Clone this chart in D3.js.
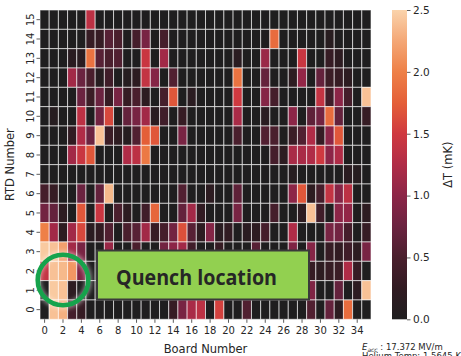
<!DOCTYPE html>
<html>
<head>
<meta charset="utf-8">
<script src="https://cdn.jsdelivr.net/npm/d3@7"></script>
<style>
    body { margin: 0; background: #fff; }
    svg { display: block; font-family: "DejaVu Sans", sans-serif; }
</style>
</head>
<body>
<div id="chart"></div>
<script>
// Board (x) and RTD (y) categories
const boards = [0, 1, 2, 3, 4, 5, 6, 7, 8, 9, 10, 11, 12, 13, 14, 15, 16, 17,
                18, 19, 20, 21, 22, 23, 24, 25, 26, 27, 28, 29, 30, 31, 32, 33, 34, 35];
const rtds = [15, 14, 13, 12, 11, 10, 9, 8, 7, 6, 5, 4, 3, 2, 1, 0];
const boardTicks = [0, 2, 4, 6, 8, 10, 12, 14, 16, 18, 20, 22, 24, 26, 28, 30, 32, 34];
const colorbarTicks = [0.0, 0.5, 1.0, 1.5, 2.0, 2.5];

// Delta T (mK), one row per RTD, same order as rtds (15 at top)
const deltaT = [
    [0,0,0,0,0,1.35,0,0,0,0,0,0,0,0,0,0,0,0,0,0,0,0,0,0,0,0,0,0,0,0,0,0,0,0,0,0],
    [0,0,0,0,0,0.3,0.3,0.6,0.5,0,0.45,0.85,0,0.45,0,0,0,0,0,0,0,0,0,0,0,1.85,0,0,0,0,0,0.12,0,0,0,0],
    [0,0,0,0.15,0.15,1.9,0.6,0.5,0.55,0,0,1.45,0,1.15,0,0,0,0,0,0,0,0.15,0,0,1.1,0,0,0,1.45,0,0,0.3,0.2,0,0,0],
    [0,0,0,1.15,0.75,0.5,0.1,0.4,0,0.1,0.2,1.4,0.95,0,0.55,0,0,0,0,0,0,1.9,0,0,0.7,0,0,0.2,1.05,0,0.7,0.35,0.3,0.2,0,0],
    [0,0,0,0,0.75,0.35,0.75,0.3,0.85,0.3,0.5,0.2,0,0.45,1.7,0,0.15,0,0,0,0,1.5,0,0,0.95,0.45,0,0,0,0,1.4,0.4,1.0,0.45,0,2.4],
    [0,0.1,0,0,1.35,0,0.8,1.6,0,0.7,0.85,1.15,0.15,0.4,0,0.3,0,0,0,0,0,1.2,0,0,0.15,0,0,1.0,0,0.65,0.8,1.85,0.7,0,0,0.3],
    [0,0,0,0.25,1.25,0.75,2.4,0.35,0.2,0.1,0.55,1.75,1.7,0,0,0.85,0,0,0,0,0,0.5,0,0,0.55,0.5,0,0.35,0.55,1.25,0.3,1.0,1.7,0,0,0],
    [0,0,0,1.15,1.45,1.7,0,0,0,1.25,1.35,1.95,0,0,0,0,0,0,0,0,0,0,0,0,0,0.45,0.2,1.2,1.2,1.25,1.5,1.0,1.25,0,0,0],
    [0,0,0,0,0,0,0,0,0,0,0,0,0,0,0,0,0,0,0,0,0,0,0,0,0,0,0,0.1,0,0,0,0,0,0.15,0.1,0],
    [0.45,0.3,0,0,0.75,0,0.7,2.35,0,0,0,0,0,0,0,0.55,0,0,0.2,0,0,0.65,0,0,0,0,0,1.0,1.7,0.2,0.45,1.4,0.95,1.35,0,0],
    [0.8,0.7,0.2,0,1.7,0,1.45,0,0.5,0.2,0,0.4,1.8,0,0,0.7,1.15,0.25,0,0,0,0.85,0,0,0,0.45,0,0,0.2,2.4,0.4,0,1.0,1.05,0,0.2],
    [2.0,1.15,0.2,1.15,1.6,0.15,0.25,0.55,0,0.5,0.6,1.15,0.3,0.45,0.8,1.65,0.6,0.2,0.95,0.15,0.25,0,0.15,0.2,0.45,0,0,1.25,0,0,0,0.85,0.8,0.45,0,0.3],
    [2.45,2.4,2.2,1.15,0.85,0,0,1.1,0,0,0.5,0,0,0.8,1.0,1.15,0.4,0,0,0.3,0,0,0,0.6,0,0,0,0.9,0,0.95,0,0.3,0.25,0.4,0.2,0.85],
    [1.4,2.4,2.35,2.15,0.9,0,0,0,0,0,0,0,0,0,0,0,0,0,0,0,0,0,0,0,0,0,0,0,0,0.3,0.2,0.3,0.35,1.25,0.3,0],
    [0,2.45,2.4,0.2,0,0,0,0,0,0,0,0,0,0,0,0,0,0,0,0,0,0,0,0,0,0,0,0,0,0.9,0,0,0.7,0,0.2,2.4],
    [0,2.4,2.3,0.45,0.3,0,0,0,0,0,0,0,0,0,0.3,0.85,1.2,1.35,0,1.55,0,0,0.55,0,0,0,0,0,0,0.55,0,0.7,0.2,1.85,0,0]
];

const width = 461, height = 356;
const plot = { left: 40, top: 10, right: 371, bottom: 319.3 };

const svg = d3.select('#chart').append('svg')
    .attr('width', width)
    .attr('height', height);

const xScale = d3.scaleBand().domain(boards).range([plot.left, plot.right]);
const yScale = d3.scaleBand().domain(rtds).range([plot.top, plot.bottom]);

// rocket-like colormap, sampled off the colorbar
const colorScale = d3.scaleLinear()
    .domain([0, 0.25, 0.5, 0.75, 1.0, 1.25, 1.5, 1.75, 2.0, 2.25, 2.5])
    .range(['#1f1e1f', '#311b22', '#4a1f2d', '#6b2340', '#8c2547', '#b02c47',
            '#cf3940', '#e45f38', '#ee8047', '#f4a776', '#fad3ab'])
    .clamp(true);

// cells
const cells = [];
deltaT.forEach((row, i) => {
    row.forEach((v, j) => cells.push({ rtd: rtds[i], board: boards[j], value: v }));
});

svg.append('g')
    .selectAll('rect')
    .data(cells)
    .enter()
    .append('rect')
    .attr('x', d => xScale(d.board))
    .attr('y', d => yScale(d.rtd))
    .attr('width', xScale.bandwidth())
    .attr('height', yScale.bandwidth())
    .attr('fill', d => colorScale(d.value))
    .attr('stroke', '#fff')
    .attr('stroke-opacity', 0.6)
    .attr('stroke-width', 1);

// x axis
const xAxis = svg.append('g')
    .attr('transform', `translate(0,${plot.bottom})`)
    .call(d3.axisBottom(xScale).tickValues(boardTicks).tickSize(3.5).tickPadding(4));
xAxis.select('.domain').remove();
xAxis.selectAll('line').attr('stroke', '#333').attr('stroke-width', 0.8);
xAxis.selectAll('text')
    .attr('fill', '#262626')
    .style('font-size', '10px')
    .style('font-family', '"DejaVu Sans", sans-serif');

// y axis, labels turned on their side
const yAxis = svg.append('g')
    .attr('transform', `translate(${plot.left},0)`)
    .call(d3.axisLeft(yScale).tickSize(3.5));
yAxis.select('.domain').remove();
yAxis.selectAll('line').attr('stroke', '#333').attr('stroke-width', 0.8);
yAxis.selectAll('text')
    .attr('transform', 'rotate(-90)')
    .attr('x', 0)
    .attr('y', -6.5)
    .attr('dy', 0)
    .attr('text-anchor', 'middle')
    .attr('fill', '#262626')
    .style('font-size', '10px')
    .style('font-family', '"DejaVu Sans", sans-serif');

// axis titles
svg.append('text')
    .attr('x', (plot.left + plot.right) / 2)
    .attr('y', 352.5)
    .attr('text-anchor', 'middle')
    .attr('fill', '#262626')
    .style('font-size', '11.5px')
    .text('Board Number');

svg.append('text')
    .attr('transform', `translate(14,${(plot.top + plot.bottom) / 2}) rotate(-90)`)
    .attr('text-anchor', 'middle')
    .attr('fill', '#262626')
    .style('font-size', '11.5px')
    .text('RTD Number');

// colorbar
const cbar = { x: 392, w: 15 };
const cbarScale = d3.scaleLinear().domain([0, 2.5]).range([plot.bottom, plot.top]);

const defs = svg.append('defs');
const grad = defs.append('linearGradient')
    .attr('id', 'cbar-grad')
    .attr('x1', 0).attr('y1', 1).attr('x2', 0).attr('y2', 0);
d3.range(0, 2.5001, 0.125).forEach(v => {
    grad.append('stop')
        .attr('offset', v / 2.5)
        .attr('stop-color', colorScale(v));
});

svg.append('rect')
    .attr('x', cbar.x)
    .attr('y', plot.top)
    .attr('width', cbar.w)
    .attr('height', plot.bottom - plot.top)
    .attr('fill', 'url(#cbar-grad)');

const cAxis = svg.append('g')
    .attr('transform', `translate(${cbar.x + cbar.w},0)`)
    .call(d3.axisRight(cbarScale).tickValues(colorbarTicks).tickFormat(d3.format('.1f')).tickSize(3.5).tickPadding(2.5));
cAxis.select('.domain').remove();
cAxis.selectAll('line').attr('stroke', '#333').attr('stroke-width', 0.8);
cAxis.selectAll('text')
    .attr('fill', '#262626')
    .style('font-size', '10.5px')
    .style('font-family', '"DejaVu Sans", sans-serif');

svg.append('text')
    .attr('transform', `translate(452,${(plot.top + plot.bottom) / 2}) rotate(-90)`)
    .attr('text-anchor', 'middle')
    .attr('fill', '#262626')
    .style('font-size', '11.5px')
    .text('ΔT (mK)');

// run conditions note (second line runs off the bottom, as in the source)
const note = svg.append('text')
    .attr('x', 362)
    .attr('y', 349.5)
    .attr('fill', '#262626')
    .style('font-size', '8.5px');
note.append('tspan').style('font-style', 'italic').text('E');
note.append('tspan').attr('dy', 2).style('font-size', '6px').style('font-style', 'italic').text('acc');
note.append('tspan').attr('dy', -2).text(' : 17.372 MV/m');

svg.append('text')
    .attr('x', 362)
    .attr('y', 359)
    .attr('fill', '#262626')
    .style('font-size', '8.5px')
    .text('Helium Temp: 1.5645 K');

// quench marker
const glow = defs.append('filter').attr('id', 'glow')
    .attr('x', '-30%').attr('y', '-30%').attr('width', '160%').attr('height', '160%');
glow.append('feGaussianBlur').attr('stdDeviation', 2);

svg.append('circle')
    .attr('cx', 63).attr('cy', 280).attr('r', 25.5)
    .attr('fill', 'none')
    .attr('stroke', '#fff')
    .attr('stroke-opacity', 0.45)
    .attr('stroke-width', 7)
    .attr('filter', 'url(#glow)');

svg.append('circle')
    .attr('cx', 63).attr('cy', 280).attr('r', 25.3)
    .attr('fill', 'none')
    .attr('stroke', '#16a34c')
    .attr('stroke-width', 4.6);

svg.append('rect')
    .attr('x', 97)
    .attr('y', 250.5)
    .attr('width', 212)
    .attr('height', 49)
    .attr('fill', '#92d050')
    .attr('stroke', '#3a3a3a')
    .attr('stroke-width', 2);

svg.append('text')
    .attr('x', 116)
    .attr('y', 285)
    .attr('textLength', 161)
    .attr('lengthAdjust', 'spacingAndGlyphs')
    .attr('fill', '#262626')
    .style('font-family', '"Open Sans", sans-serif')
    .style('font-weight', 700)
    .style('font-size', '22px')
    .text('Quench location');
</script>
</body>
</html>
